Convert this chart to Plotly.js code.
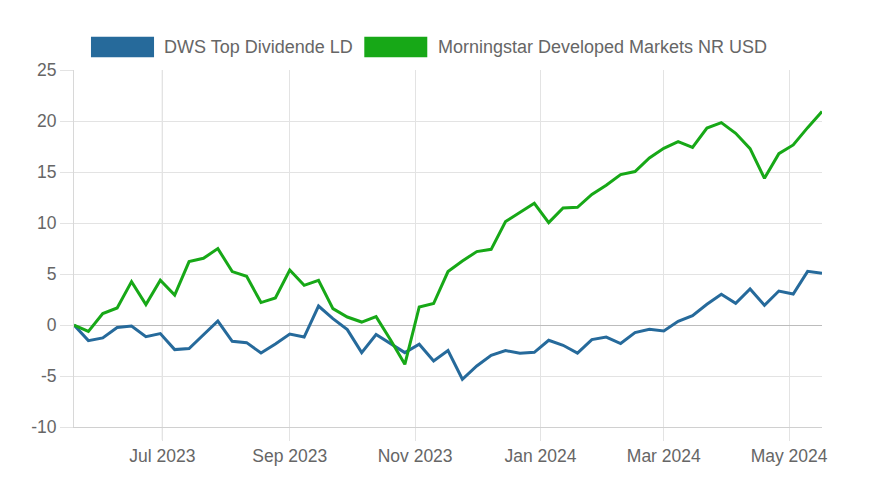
<!DOCTYPE html>
<html>
<head>
<meta charset="utf-8">
<script src="https://cdn.plot.ly/plotly-3.0.1.min.js"></script>
<style>html,body{margin:0;padding:0;background:#fff;}#chart{width:870px;height:492px;}</style>
</head>
<body>
<div id="chart"></div>
<script>
const dates = [
  "2023-05-19","2023-05-26","2023-06-02","2023-06-09","2023-06-16","2023-06-23","2023-06-30",
  "2023-07-07","2023-07-14","2023-07-21","2023-07-28","2023-08-04","2023-08-11","2023-08-18",
  "2023-08-25","2023-09-01","2023-09-08","2023-09-15","2023-09-22","2023-09-29","2023-10-06",
  "2023-10-13","2023-10-20","2023-10-27","2023-11-03","2023-11-10","2023-11-17","2023-11-24",
  "2023-12-01","2023-12-08","2023-12-15","2023-12-22","2023-12-29","2024-01-05","2024-01-12",
  "2024-01-19","2024-01-26","2024-02-02","2024-02-09","2024-02-16","2024-02-23","2024-03-01",
  "2024-03-08","2024-03-15","2024-03-22","2024-03-29","2024-04-05","2024-04-12","2024-04-19",
  "2024-04-26","2024-05-03","2024-05-10","2024-05-17"
];
const dwsName = "DWS Top Dividende LD";
const dwsValues = [
  0, -1.53, -1.27, -0.25, -0.10, -1.14, -0.84, -2.41, -2.31, -0.94, 0.39, -1.60, -1.73, -2.75,
  -1.86, -0.88, -1.18, 1.86, 0.63, -0.45, -2.71, -0.94, -1.79, -2.71, -1.89, -3.53, -2.51, -5.32,
  -4.02, -2.97, -2.51, -2.77, -2.68, -1.50, -1.99, -2.75, -1.43, -1.18, -1.82, -0.75, -0.42, -0.59,
  0.36, 0.92, 2.03, 3.01, 2.13, 3.53, 1.93, 3.33, 3.04, 5.26, 5.07
];
const msName = "Morningstar Developed Markets NR USD";
const msValues = [
  0, -0.62, 1.12, 1.67, 4.25, 2.00, 4.38, 2.94, 6.22, 6.54, 7.49, 5.24, 4.77, 2.20,
  2.65, 5.39, 3.89, 4.38, 1.61, 0.78, 0.29, 0.82, -1.45, -3.85, 1.77, 2.10, 5.24, 6.27,
  7.20, 7.42, 10.14, 11.02, 11.93, 10.04, 11.47, 11.54, 12.80, 13.70, 14.75, 15.04, 16.37, 17.32,
  17.98, 17.42, 19.31, 19.84, 18.79, 17.29, 14.38, 16.80, 17.65, 19.35, 20.92
];
const xRange = ["2023-05-19", "2024-05-17"];
const yTicks = [-10, -5, 0, 5, 10, 15, 20, 25];
const yTickText = ["-10", "-5", "0", "5", "10", "15", "20", "25"];
const highlightDate = "2023-07-01";

const blue = "#266a9b";
const green = "#17a817";
const textColor = "#666666";
const font = {family: "'Liberation Sans', Arial, sans-serif", size: 17.5, color: textColor};
const legendFont = {family: "'Liberation Sans', Arial, sans-serif", size: 18, color: textColor};

const traces = [
  {x: dates, y: dwsValues, name: dwsName, type: "scatter", mode: "lines",
   line: {color: blue, width: 3}, showlegend: false},
  {x: dates, y: msValues, name: msName, type: "scatter", mode: "lines",
   line: {color: green, width: 3}, showlegend: false}
];

const layout = {
  width: 870, height: 492,
  margin: {l: 74, r: 48, t: 70, b: 65},
  paper_bgcolor: "#ffffff", plot_bgcolor: "#ffffff",
  font: font,
  showlegend: false,
  xaxis: {
    type: "date", range: xRange,
    tick0: "2023-01-01", dtick: "M2", tickformat: "%b %Y",
    showgrid: true, gridcolor: "#e3e3e3", gridwidth: 1,
    ticks: "outside", ticklen: 13, tickcolor: "#e3e3e3",
    showline: true, linecolor: "#d0d0d0", linewidth: 1,
    zeroline: false, tickfont: font
  },
  yaxis: {
    range: [-10, 25], tickvals: yTicks, ticktext: yTickText,
    showgrid: true, gridcolor: "#e3e3e3", gridwidth: 1,
    ticks: "outside", ticklen: 13, tickcolor: "#e3e3e3",
    showline: true, linecolor: "#d8d8d8", linewidth: 1,
    zeroline: true, zerolinecolor: "#bcbcbc", zerolinewidth: 1,
    tickfont: font
  },
  shapes: [
    {type: "line", xref: "x", yref: "paper", x0: highlightDate, x1: highlightDate, y0: -0.036, y1: 1,
     line: {color: "#b5b5b5", width: 1}, layer: "below"},
    {type: "rect", xref: "paper", yref: "paper", x0: 0.0227, x1: 0.107, y0: 1.0356, y1: 1.0933,
     fillcolor: blue, line: {color: blue, width: 0}},
    {type: "rect", xref: "paper", yref: "paper", x0: 0.3881, x1: 0.4723, y0: 1.0356, y1: 1.0933,
     fillcolor: green, line: {color: green, width: 0}}
  ],
  annotations: [
    {xref: "paper", yref: "paper", x: 0.1175, y: 1.0644, xanchor: "left", yanchor: "middle",
     text: dwsName, showarrow: false, font: legendFont},
    {xref: "paper", yref: "paper", x: 0.4838, y: 1.0644, xanchor: "left", yanchor: "middle",
     text: msName, showarrow: false, font: legendFont}
  ]
};

Plotly.newPlot("chart", traces, layout, {displayModeBar: false, staticPlot: true});
</script>
</body>
</html>
